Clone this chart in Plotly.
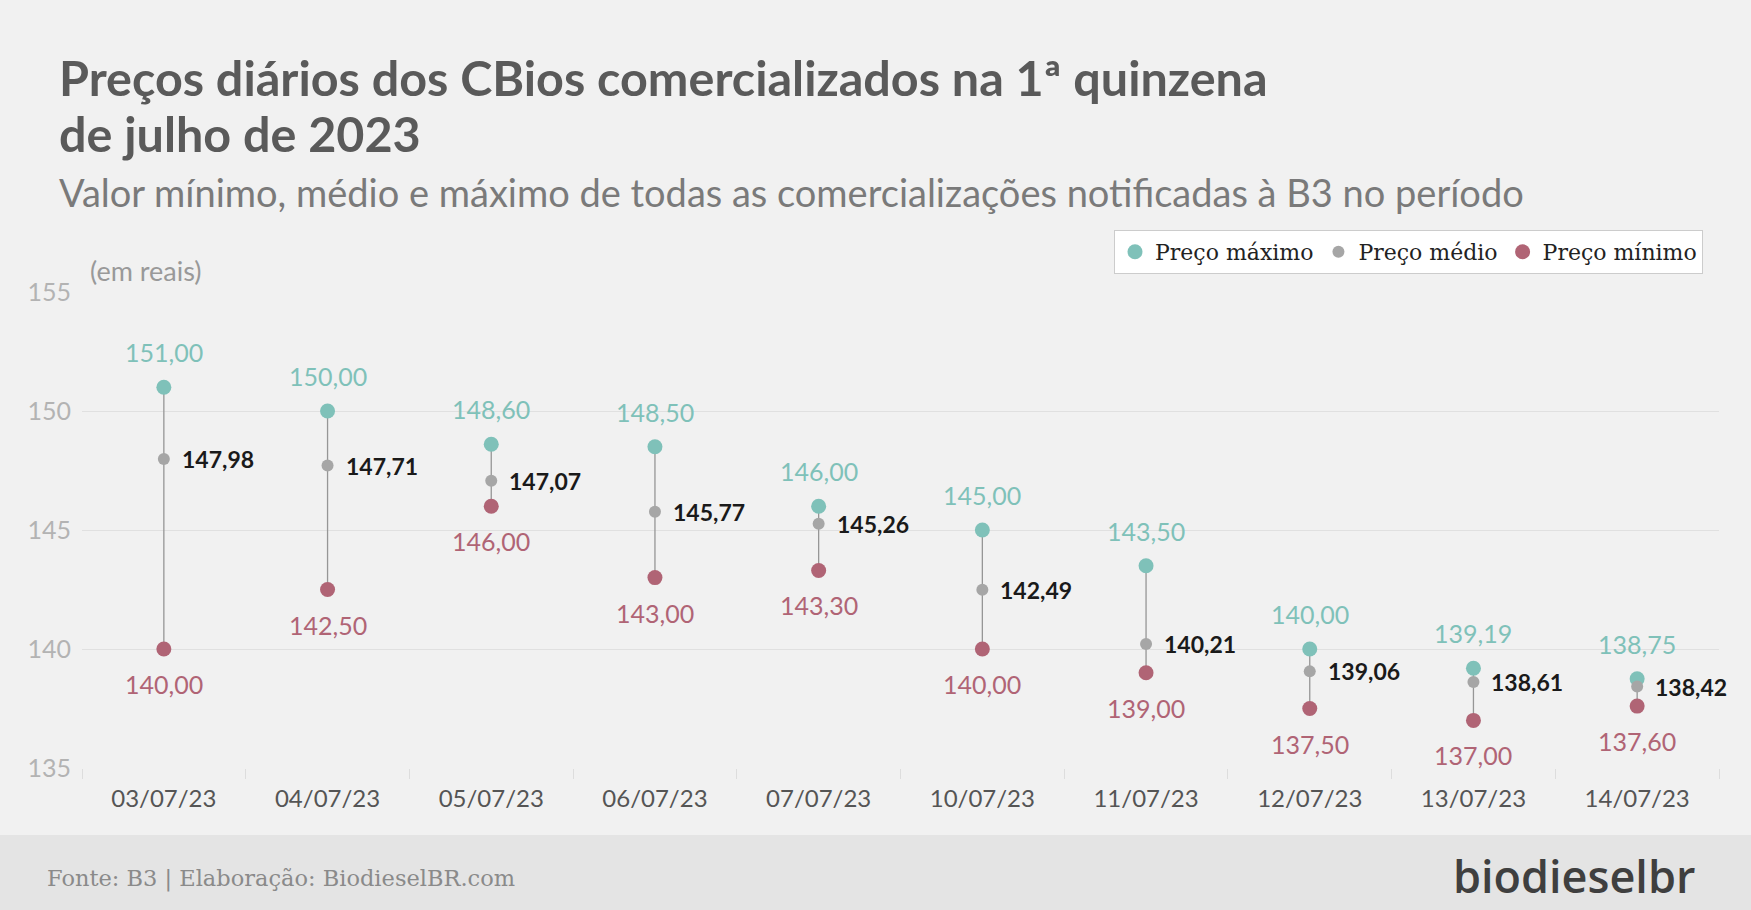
import plotly.graph_objects as go

# dados
datas = ["03/07/23", "04/07/23", "05/07/23", "06/07/23", "07/07/23",
         "10/07/23", "11/07/23", "12/07/23", "13/07/23", "14/07/23"]
preco_max = [151.00, 150.00, 148.60, 148.50, 146.00, 145.00, 143.50, 140.00, 139.19, 138.75]
preco_medio = [147.98, 147.71, 147.07, 145.77, 145.26, 142.49, 140.21, 139.06, 138.61, 138.42]
preco_min = [140.00, 142.50, 146.00, 143.00, 143.30, 140.00, 139.00, 137.50, 137.00, 137.60]

COR_MAX = "#7fc1b9"
COR_MED = "#a6a6a6"
COR_MIN = "#b06475"

W, H = 1751, 910
L, R, T, B = 82, 32, 292, 142
PW, PH = W - L - R, H - T - B


def px(x):
    return (x - L) / PW


def py(y):
    return (H - B - y) / PH


def fmt(v):
    return f"{v:.2f}".replace(".", ",")


# linhas verticais min-max
lx, ly = [], []
for d, lo, hi in zip(datas, preco_min, preco_max):
    lx += [d, d, None]
    ly += [lo, hi, None]

fig = go.Figure()
fig.add_trace(go.Scatter(x=lx, y=ly, mode="lines", line=dict(color="#969696", width=1.3),
                         showlegend=False, hoverinfo="skip"))
fig.add_trace(go.Scatter(x=datas, y=preco_max, mode="markers", name="Preço máximo",
                         marker=dict(color=COR_MAX, size=15)))
fig.add_trace(go.Scatter(x=datas, y=preco_medio, mode="markers", name="Preço médio",
                         marker=dict(color=COR_MED, size=12)))
fig.add_trace(go.Scatter(x=datas, y=preco_min, mode="markers", name="Preço mínimo",
                         marker=dict(color=COR_MIN, size=15)))

anns = []
for d, hi, me, lo in zip(datas, preco_max, preco_medio, preco_min):
    anns.append(dict(x=d, y=hi, text=fmt(hi), showarrow=False, yshift=35,
                     font=dict(color=COR_MAX, size=25, family="Lato")))
    anns.append(dict(x=d, y=lo, text=fmt(lo), showarrow=False, yshift=-35,
                     font=dict(color=COR_MIN, size=25, family="Lato")))
    anns.append(dict(x=d, y=me, text=fmt(me), showarrow=False, xshift=16, xanchor="left",
                     font=dict(color="#1a1a1a", size=23, family="Lato", weight="bold")))

# títulos e textos fixos
anns += [
    dict(xref="paper", yref="paper", x=px(57), y=py(77), xanchor="left", yanchor="middle",
         showarrow=False,
         text="Preços diários dos CBios comercializados na 1ª quinzena",
         font=dict(family="Lato", size=48.5, color="#5a5a5a", weight="bold")),
    dict(xref="paper", yref="paper", x=px(57), y=py(133), xanchor="left", yanchor="middle",
         showarrow=False, text="de julho de 2023",
         font=dict(family="Lato", size=48.5, color="#5a5a5a", weight="bold")),
    dict(xref="paper", yref="paper", x=px(57), y=py(192), xanchor="left", yanchor="middle",
         showarrow=False,
         text="Valor mínimo, médio e máximo de todas as comercializações notificadas à B3 no período",
         font=dict(family="Lato", size=38, color="#7a7a7a")),
    dict(xref="paper", yref="paper", x=px(88), y=py(271), xanchor="left", yanchor="middle",
         showarrow=False, text="(em reais)",
         font=dict(family="Lato", size=27, color="#999999")),
    dict(xref="paper", yref="paper", x=px(45), y=py(878), xanchor="left", yanchor="middle",
         showarrow=False, text="Fonte: B3 | Elaboração: BiodieselBR.com",
         font=dict(family="DejaVu Serif", size=22.5, color="#8a8a8a")),
    dict(xref="paper", yref="paper", x=px(1697), y=py(875), xanchor="right", yanchor="middle",
         showarrow=False, text="biodieselbr",
         font=dict(family="Open Sans", size=45, color="#3f3f3f", weight=600)),
]

fig.update_layout(
    width=W, height=H,
    margin=dict(l=L, r=R, t=T, b=B),
    paper_bgcolor="#f1f1f1",
    plot_bgcolor="#f1f1f1",
    font=dict(family="Lato"),
    showlegend=True,
    legend=dict(orientation="h", x=px(1703), y=py(230), xanchor="right", yanchor="top",
                bgcolor="#ffffff", bordercolor="#cccccc", borderwidth=1,
                font=dict(family="DejaVu Serif", size=22, color="#222222"),
                itemwidth=30, tracegroupgap=0),
    annotations=anns,
    shapes=[dict(type="rect", xref="paper", yref="paper", x0=-0.1, x1=1.1,
                 y0=py(835), y1=py(915), fillcolor="#e4e4e4", line=dict(width=0), layer="below")],
    xaxis=dict(type="category", range=[-0.5, len(datas) - 0.5],
               tickson="boundaries", ticks="outside", ticklen=10,
               tickcolor="#dddddd", showgrid=False, showline=False, automargin=False,
               ticklabelstandoff=14,
               tickfont=dict(size=24, color="#555555", family="Lato")),
    yaxis=dict(range=[135, 155], dtick=5, showgrid=True, gridcolor="#e0e0e0", gridwidth=1,
               zeroline=False, showline=False, ticklabelstandoff=10, automargin=False,
               tickfont=dict(size=25, color="#b3b3b3", family="Lato")),
)

fig.write_html("out.html", config={"displayModeBar": False},
               post_script="document.body.style.margin='0';")
